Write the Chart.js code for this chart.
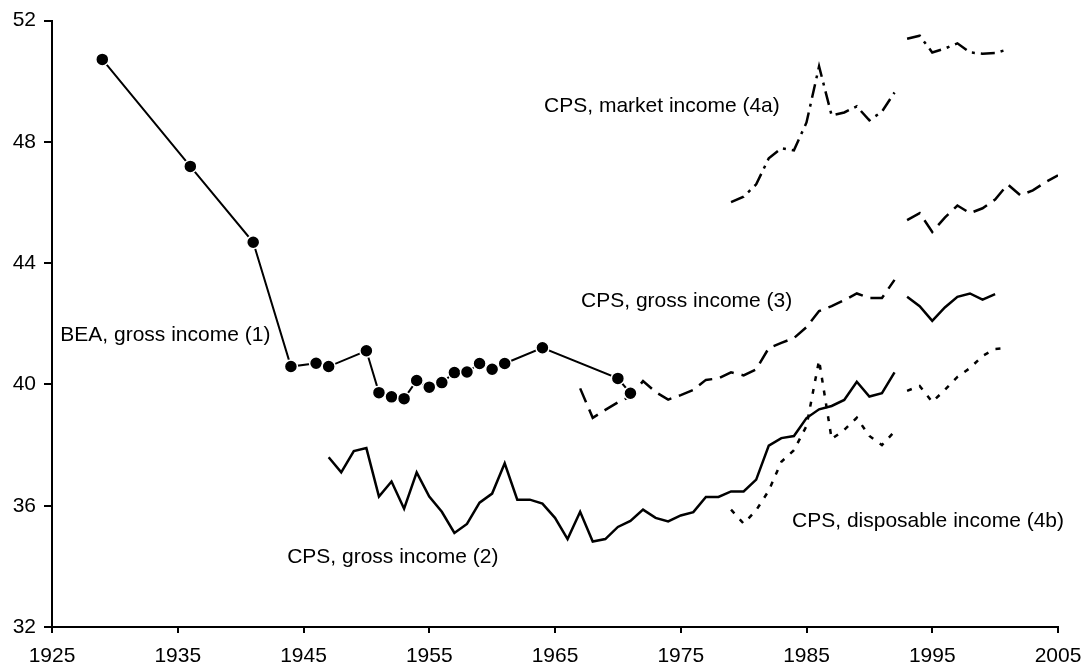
<!DOCTYPE html>
<html>
<head>
<meta charset="utf-8">
<script src="https://cdn.jsdelivr.net/npm/chart.js@4/dist/chart.umd.min.js"></script>
<style>
  html, body { margin: 0; padding: 0; background: #fff; }
  #wrap { width: 1086px; height: 671px; }
</style>
</head>
<body>
<div id="wrap"><canvas id="grafico" width="1086" height="671"></canvas></div>
<script>
// valores

const beaYears = [1929, 1936, 1941, 1944, 1946, 1947, 1950, 1951, 1952, 1953, 1954, 1955, 1956, 1957, 1958, 1959, 1960, 1961, 1964, 1970, 1971];
const beaValues = [50.72, 47.19, 44.69, 40.59, 40.70, 40.59, 41.11, 39.73, 39.59, 39.53, 40.13, 39.91, 40.06, 40.39, 40.41, 40.69, 40.50, 40.69, 41.21, 40.20, 39.71];

const cps2Years = [1947, 1948, 1949, 1950, 1951, 1952, 1953, 1954, 1955, 1956, 1957, 1958, 1959, 1960, 1961, 1962, 1963, 1964, 1965, 1966, 1967, 1968, 1969, 1970, 1971, 1972, 1973, 1974, 1975, 1976, 1977, 1978, 1979, 1980, 1981, 1982, 1983, 1984, 1985, 1986, 1987, 1988, 1989, 1990, 1991, 1992];
const cps2Values = [37.6, 37.1, 37.8, 37.9, 36.3, 36.8, 35.9, 37.1, 36.3, 35.8, 35.1, 35.4, 36.1, 36.4, 37.4, 36.2, 36.2, 36.07, 35.6, 34.9, 35.8, 34.82, 34.9, 35.3, 35.5, 35.87, 35.6, 35.48, 35.68, 35.79, 36.29, 36.29, 36.47, 36.47, 36.86, 37.98, 38.23, 38.3, 38.89, 39.18, 39.29, 39.49, 40.09, 39.6, 39.71, 40.4];
const cps2bYears = [1993, 1994, 1995, 1996, 1997, 1998, 1999, 2000];
const cps2bValues = [42.89, 42.58, 42.1, 42.54, 42.89, 43.0, 42.8, 42.98];

const cps3Years = [1967, 1968, 1969, 1970, 1971, 1972, 1973, 1974, 1975, 1976, 1977, 1978, 1979, 1980, 1981, 1982, 1983, 1984, 1985, 1986, 1987, 1988, 1989, 1990, 1991, 1992];
const cps3Values = [39.87, 38.9, 39.16, 39.41, 39.6, 40.11, 39.75, 39.5, 39.65, 39.82, 40.15, 40.2, 40.4, 40.3, 40.5, 41.2, 41.37, 41.53, 41.89, 42.42, 42.58, 42.78, 43.0, 42.85, 42.85, 43.45];
const cps3bYears = [1993, 1994, 1995, 1996, 1997, 1998, 1999, 2000, 2001, 2002, 2003, 2004, 2005];
const cps3bValues = [45.42, 45.65, 45.03, 45.5, 45.9, 45.65, 45.81, 46.1, 46.6, 46.24, 46.4, 46.67, 46.9];

const mktYears = [1979, 1980, 1981, 1982, 1983, 1984, 1985, 1986, 1987, 1988, 1989, 1990, 1991, 1992];
const mktValues = [46.01, 46.19, 46.6, 47.46, 47.79, 47.72, 48.64, 50.49, 48.87, 48.97, 49.17, 48.71, 49.0, 49.63];
const mktbYears = [1993, 1994, 1995, 1996, 1997, 1998, 1999, 2000, 2001];
const mktbValues = [51.4, 51.5, 50.95, 51.08, 51.25, 50.95, 50.91, 50.93, 51.05];

const dispYears = [1979, 1980, 1981, 1982, 1983, 1984, 1985, 1986, 1987, 1988, 1989, 1990, 1991, 1992];
const dispValues = [35.87, 35.41, 35.85, 36.5, 37.45, 37.83, 38.63, 40.8, 38.2, 38.5, 38.9, 38.3, 38.0, 38.45];
const dispbYears = [1993, 1994, 1995, 1996, 1997, 1998, 1999, 2000, 2001];
const dispbValues = [39.79, 39.95, 39.42, 39.82, 40.25, 40.54, 40.94, 41.17, 41.2];

// rótulos das séries (posição: ano / valor da linha de base)
const labelTexts = ['BEA, gross income (1)', 'CPS, gross income (2)', 'CPS, gross income (3)', 'CPS, market income (4a)', 'CPS, disposable income (4b)'];
const labelYears = [1925.66, 1943.7, 1967.07, 1964.13, 1983.85];
const labelValues = [41.42, 34.12, 42.55, 48.97, 35.31];

const fonte = '"Liberation Sans", Arial, sans-serif';

function pontos(anos, valores) {
    return anos.map((a, i) => ({ x: a, y: valores[i] }));
}

function serie(anos, valores, dash, largura) {
    return {
        data: pontos(anos, valores),
        borderColor: '#000',
        borderWidth: largura || 2.5,
        borderDash: dash,
        pointRadius: 0,
        fill: false,
        tension: 0
    };
}

const rotulosPlugin = {
    id: 'rotulos',
    afterDatasetsDraw(chart) {
        const ctx = chart.ctx;
        const sx = chart.scales.x, sy = chart.scales.y;
        ctx.save();
        ctx.fillStyle = '#000';
        ctx.font = '21px ' + fonte;
        ctx.textAlign = 'left';
        ctx.textBaseline = 'alphabetic';
        labelTexts.forEach((t, i) => {
            ctx.fillText(t, sx.getPixelForValue(labelYears[i]), sy.getPixelForValue(labelValues[i]));
        });
        ctx.restore();
    }
};

const ctx = document.getElementById('grafico').getContext('2d');

new Chart(ctx, {
    type: 'line',
    data: {
        datasets: [
            {
                data: pontos(beaYears, beaValues),
                borderColor: '#000',
                borderWidth: 2,
                pointRadius: 6.5,
                pointBackgroundColor: '#000',
                pointBorderColor: '#fff',
                pointBorderWidth: 1.5,
                fill: false,
                tension: 0
            },
            serie(cps2Years, cps2Values, []),
            serie(cps2bYears, cps2bValues, []),
            serie(cps3Years, cps3Values, [15, 8]),
            serie(cps3bYears, cps3bValues, [15, 8]),
            serie(mktYears, mktValues, [14, 6, 3, 6]),
            serie(mktbYears, mktbValues, [14, 6, 3, 6]),
            serie(dispYears, dispValues, [5, 8]),
            serie(dispbYears, dispbValues, [5, 8])
        ]
    },
    options: {
        responsive: false,
        animation: false,
        layout: { padding: { top: 20, right: 28, left: 0, bottom: 0 } },
        plugins: {
            legend: { display: false },
            tooltip: { enabled: false }
        },
        scales: {
            x: {
                type: 'linear',
                min: 1925,
                max: 2005,
                afterFit: (s) => { s.height = 44; s.paddingLeft = 0; s.paddingRight = 0; },
                ticks: { stepSize: 10, color: '#000', padding: 11, font: { family: fonte, size: 21 }, callback: v => String(v) },
                grid: { drawOnChartArea: false, drawTicks: true, tickLength: 6, color: '#000', lineWidth: 2 },
                border: { color: '#000', width: 2 }
            },
            y: {
                min: 32,
                max: 52,
                afterFit: (s) => { s.width = 52; },
                ticks: { stepSize: 4, color: '#000', padding: 8, font: { family: fonte, size: 21 } },
                grid: { drawOnChartArea: false, drawTicks: true, tickLength: 8, color: '#000', lineWidth: 2 },
                border: { color: '#000', width: 2 }
            }
        }
    },
    plugins: [rotulosPlugin]
});
</script>
</body>
</html>
